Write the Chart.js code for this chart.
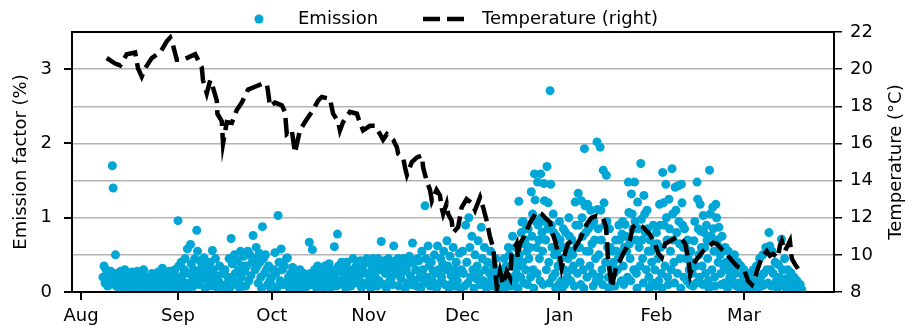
<!DOCTYPE html>
<html>
<head>
<meta charset="utf-8">
<script src="https://cdn.jsdelivr.net/npm/chart.js@4/dist/chart.umd.min.js"></script>
<style>
  html, body { margin: 0; padding: 0; background: #fff; }
  #wrap { width: 908px; height: 329px; }
</style>
</head>
<body>
<div id="wrap"><canvas id="chart" width="908" height="329"></canvas></div>
<script>
// x axis is "days since 1 Aug"
const monthDays = [0, 31, 61, 92, 122, 153, 184, 212];
const monthLabels = ['Aug', 'Sep', 'Oct', 'Nov', 'Dec', 'Jan', 'Feb', 'Mar'];
const emissionTicks = [0, 1, 2, 3];
const tempTicks = [8, 10, 12, 14, 16, 18, 20, 22];

// emission factor (%) readings, one list per day starting at day 7 (8 Aug)
const firstEmissionDay = 7;
const emissionByDay = [
  // Aug
  [0.2, 0.35, 0.12], [0.3, 0.18, 0.08, 0.25], [0.22, 0.1, 0.28, 0.15], [1.7, 1.4, 0.12, 0.2],
  [0.5, 0.08, 0.25, 0.15], [0.18, 0.05, 0.28], [0.1, 0.22, 0.04], [0.3, 0.12, 0.06],
  [0.08, 0.2, 0.02], [0.15, 0.27, 0.05], [0.1, 0.03, 0.18], [0.28, 0.06, 0.12],
  [0.05, 0.15, 0.22], [0.3, 0.08, 0.02], [0.12, 0.2, 0.05], [0.18, 0.04, 0.25],
  [0.08, 0.22, 0.12], [0.15, 0.03, 0.27], [0.2, 0.1, 0.06], [0.32, 0.12, 0.04],
  [0.15, 0.25, 0.07], [0.1, 0.28, 0.18], [0.22, 0.05, 0.14], [0.3, 0.12, 0.2, 0.08],
  // Sep
  [0.96, 0.35, 0.18, 0.05], [0.4, 0.22, 0.1], [0.3, 0.45, 0.12, 0.02], [0.58, 0.25, 0.08],
  [0.64, 0.38, 0.15, 0.07], [0.3, 0.45, 0.2], [0.83, 0.55, 0.28, 0.1], [0.42, 0.18, 0.35],
  [0.25, 0.46, 0.05], [0.35, 0.15, 0.28], [0.2, 0.4, 0.08], [0.56, 0.3, 0.12],
  [0.45, 0.22, 0.05], [0.15, 0.35, 0.03], [0.08, 0.25, 0.05], [0.3, 0.1, 0.04],
  [0.2, 0.45, 0.06], [0.72, 0.38, 0.15], [0.5, 0.25, 0.1], [0.42, 0.3, 0.12, 0.05],
  [0.55, 0.2, 0.35], [0.48, 0.28, 0.08], [0.35, 0.55, 0.15], [0.5, 0.22, 0.4],
  [0.76, 0.45, 0.3], [0.6, 0.35, 0.12], [0.52, 0.4, 0.2, 0.05], [0.88, 0.45, 0.25],
  [0.5, 0.3, 0.1], [0.35, 0.15, 0.05],
  // Oct
  [0.2, 0.08, 0.3], [0.53, 0.25, 0.05], [1.03, 0.4, 0.15], [0.58, 0.3, 0.1],
  [0.35, 0.12, 0.45], [0.46, 0.2, 0.05], [0.25, 0.1, 0.33], [0.15, 0.3, 0.04],
  [0.08, 0.22, 0.12], [0.3, 0.05, 0.18], [0.12, 0.25, 0.06], [0.2, 0.08, 0.15],
  [0.67, 0.25, 0.1], [0.57, 0.18, 0.3], [0.22, 0.05, 0.35], [0.28, 0.12, 0.2],
  [0.1, 0.3, 0.06], [0.35, 0.15, 0.25], [0.22, 0.38, 0.05], [0.3, 0.12, 0.18],
  [0.61, 0.25, 0.08], [0.78, 0.35, 0.15], [0.28, 0.4, 0.1], [0.18, 0.32, 0.05],
  [0.4, 0.22, 0.12], [0.3, 0.08, 0.25], [0.45, 0.2, 0.12], [0.35, 0.15, 0.28],
  [0.22, 0.42, 0.06], [0.3, 0.12, 0.38], [0.25, 0.45, 0.1],
  // Nov
  [0.4, 0.2, 0.05], [0.3, 0.45, 0.12], [0.22, 0.38, 0.08], [0.45, 0.15, 0.3],
  [0.68, 0.35, 0.1], [0.42, 0.25, 0.05], [0.3, 0.45, 0.15], [0.38, 0.2, 0.1],
  [0.62, 0.3, 0.42], [0.25, 0.45, 0.08], [0.35, 0.18, 0.4], [0.45, 0.28, 0.05],
  [0.3, 0.12, 0.38], [0.48, 0.22, 0.1], [0.66, 0.4, 0.15], [0.3, 0.08, 0.45],
  [0.42, 0.2, 0.05], [0.55, 0.3, 0.12], [1.16, 0.45, 0.2], [0.62, 0.35, 0.08],
  [0.4, 0.15, 0.28], [0.5, 0.25, 0.05], [0.62, 0.3, 0.12], [0.45, 0.2, 0.38],
  [0.55, 0.1, 0.3], [0.69, 0.35, 0.05], [0.48, 0.22, 0.12], [0.6, 0.3, 0.08],
  [0.4, 0.15, 0.25], [0.52, 0.05, 0.3],
  // Dec
  [0.55, 0.25, 0.08], [0.9, 0.4, 0.12], [1.0, 0.6, 0.2], [0.75, 0.3, 0.05],
  [0.5, 0.18, 0.35], [0.69, 0.25, 0.1], [0.87, 0.45, 0.15], [0.6, 0.3, 0.05],
  [0.4, 0.12, 0.25], [0.55, 0.2, 0.08], [0.35, 0.1, 0.45], [0.25, 0.05, 0.15],
  [0.3, 0.1, 0.02], [0.2, 0.45, 0.05], [0.35, 0.12, 0.6], [0.5, 0.2, 0.08],
  [0.75, 0.35, 0.45, 0.15], [0.6, 0.25, 0.4, 0.05], [1.22, 0.5, 0.35, 0.2, 0.8], [0.94, 0.4, 0.95, 0.12, 0.65],
  [0.7, 0.3, 0.85, 0.55, 0.1], [0.85, 0.45, 0.6, 0.2], [1.35, 0.75, 1.05, 0.3, 0.05], [1.59, 1.24, 0.95, 0.6, 0.25],
  [1.48, 0.9, 0.7, 0.45, 0.15], [1.59, 1.0, 0.8, 0.55, 0.1], [1.46, 1.23, 0.95, 0.7, 0.3], [1.69, 0.85, 1.2, 0.4, 0.12],
  [2.71, 1.45, 0.9, 0.6, 0.2], [1.05, 0.8, 0.5, 0.25, 0.05], [0.75, 0.55, 0.35, 0.1],
  // Jan
  [0.95, 0.7, 0.45, 0.15, 0.05], [0.6, 0.85, 0.3, 0.1], [0.8, 0.6, 0.2, 0.45], [1.0, 0.75, 0.55, 0.15, 0.3],
  [0.7, 0.5, 0.35, 0.08], [1.21, 0.9, 0.6, 0.25], [1.33, 0.9, 0.6, 0.4, 0.1], [1.23, 1.0, 0.75, 0.3, 0.05],
  [1.93, 1.16, 0.8, 0.55, 0.2], [1.18, 0.85, 0.55, 0.35], [1.1, 0.9, 0.65, 0.25, 0.08], [0.95, 0.7, 0.45, 0.15],
  [2.02, 1.11, 0.85, 0.5, 0.2], [1.95, 1.1, 0.7, 0.3, 0.1], [1.64, 1.2, 0.9, 0.4], [1.57, 0.95, 0.6, 0.2, 0.05],
  [0.85, 0.6, 0.35, 0.1], [0.55, 0.4, 0.25, 0.08], [0.7, 0.55, 0.3, 0.45], [0.9, 0.7, 0.5, 0.15],
  [0.78, 0.95, 0.35, 0.1, 0.6], [0.91, 0.75, 0.55, 0.2], [1.48, 1.07, 0.65, 0.45, 0.15], [1.32, 1.05, 0.85, 0.3],
  [1.48, 0.95, 0.7, 0.25, 0.05], [1.21, 0.85, 0.6, 0.35], [1.73, 0.98, 0.7, 0.45, 0.12], [1.3, 1.05, 0.8, 0.3],
  [1.1, 0.85, 0.55, 0.2, 0.05], [0.7, 0.55, 0.4, 0.12], [0.9, 0.6, 0.3, 0.08],
  // Feb
  [0.8, 0.65, 0.45, 0.15], [1.18, 0.9, 0.6, 0.25, 0.05], [1.61, 1.2, 0.9, 0.35], [1.45, 1.0, 0.7, 0.2, 0.1],
  [1.25, 0.85, 0.55, 0.3], [1.66, 1.05, 0.7, 0.4, 0.12], [1.41, 1.1, 0.8, 0.25], [1.43, 0.95, 0.65, 0.45, 0.05],
  [1.45, 1.2, 0.9, 0.6, 0.2], [0.85, 0.6, 0.45, 0.15], [0.7, 0.5, 0.3, 0.1], [0.55, 0.4, 0.25, 0.08],
  [0.69, 0.95, 0.35, 0.12], [1.48, 1.25, 0.85, 0.5, 0.2], [1.18, 0.82, 0.6, 0.35, 0.1], [1.03, 0.8, 0.6, 0.25],
  [0.9, 0.7, 0.45, 0.15, 0.05], [1.64, 1.05, 0.75, 0.3], [1.14, 0.85, 0.55, 0.2, 0.08], [1.18, 1.0, 0.7, 0.4],
  [0.87, 0.6, 0.5, 0.25, 0.1], [0.75, 0.55, 0.35, 0.12], [0.6, 0.4, 0.3, 0.05], [0.55, 0.35, 0.2, 0.1],
  [0.45, 0.15, 0.3], [0.5, 0.25, 0.08], [0.4, 0.12, 0.05], [0.35, 0.1, 0.22],
  // Mar
  [0.3, 0.1, 0.05], [0.25, 0.08, 0.15], [0.2, 0.05, 0.12], [0.3, 0.1, 0.04],
  [0.35, 0.15, 0.06], [0.45, 0.2, 0.08], [0.5, 0.25, 0.1], [0.6, 0.3, 0.12],
  [0.8, 0.62, 0.3, 0.08], [0.55, 0.25, 0.1], [0.4, 0.15, 0.05], [0.37, 0.2, 0.08],
  [0.71, 0.3, 0.1], [0.45, 0.18, 0.05], [0.3, 0.1, 0.03], [0.26, 0.12, 0.05],
  [0.2, 0.08, 0.02], [0.15, 0.05, 0.1], [0.1, 0.03]
];

// temperature (°C), right axis
const tempDays = [
  8.2, 10.9, 12.5, 14.6, 17.3, 18.2, 19.4, 20.5, 22.6, 25.3, 27.4, 28.5, 29.4, 30.6, 32.6, 36.5,
  38.6, 39.0, 40.2, 41.3, 42.2, 43.4, 43.6, 45.0, 45.4, 46.6, 48.2, 49.8, 51.4, 53.4, 55.6, 57.8,
  59.4, 59.8, 60.4, 62.0, 64.2, 65.2, 65.8, 67.4, 68.4, 70.0, 71.6, 74.2, 75.8, 77.0, 79.6, 80.6,
  82.2, 82.8, 83.8, 86.0, 88.2, 89.2, 90.2, 92.4, 94.0, 95.6, 96.6, 97.8, 99.8, 101.0, 101.4, 103.0,
  103.6, 104.2, 105.8, 107.4, 109.0, 109.4, 110.5, 111.6, 112.2, 113.7, 114.8, 115.3, 115.8, 116.9, 117.4, 118.5,
  119.0, 120.6, 121.7, 123.3, 124.9, 126.0, 127.6, 128.6, 129.7, 130.8, 131.8, 132.4, 133.0, 134.0, 134.9, 136.1,
  137.2, 137.7, 139.3, 139.7, 140.4, 142.0, 143.6, 145.7, 147.3, 148.4, 150.0, 150.5, 151.6, 152.1, 153.2, 153.7,
  154.8, 155.7, 156.9, 158.0, 159.6, 160.5, 161.7, 163.3, 164.9, 166.9, 167.9, 168.1, 168.5, 169.2, 169.7, 170.8,
  171.3, 172.4, 173.3, 174.5, 175.6, 176.5, 177.7, 179.7, 181.9, 183.5, 184.5, 185.7, 186.8, 188.4, 190.5, 192.1,
  193.2, 194.1, 194.8, 195.7, 197.3, 198.9, 200.5, 202.1, 203.3, 204.9, 206.5, 208.1, 209.7, 211.3, 212.3, 213.3,
  214.5, 215.5, 216.5, 217.7, 219.3, 220.3, 221.3, 222.9, 223.5, 224.1, 225.1, 226.7, 227.3, 228.3, 229.3
];
const tempValues = [
  20.6, 20.3, 20.2, 20.8, 20.9, 20.05, 19.6, 20.05, 20.6, 20.9, 21.5, 21.7, 21.3, 20.5, 20.5, 20.8,
  20.1, 19.4, 18.7, 19.4, 19.0, 18.3, 17.6, 17.2, 16.0, 17.15, 17.1, 17.8, 18.2, 18.9, 19.05, 19.2,
  19.2, 18.8, 18.0, 18.2, 18.05, 17.7, 16.5, 16.7, 15.5, 16.7, 17.15, 17.8, 18.3, 18.5, 18.4, 17.6,
  17.2, 16.7, 17.15, 17.7, 17.6, 17.1, 16.7, 16.95, 16.95, 16.5, 16.2, 16.5, 16.2, 15.8, 15.45, 15.25,
  14.7, 14.3, 15.0, 15.25, 15.35, 14.7, 14.0, 13.5, 12.9, 13.5, 13.2, 12.55, 12.2, 12.75, 12.2, 11.85,
  11.2, 11.5, 12.55, 13.0, 12.8, 12.4, 13.1, 12.55, 11.85, 10.95, 10.4, 9.3, 8.2, 9.1, 8.4, 9.1,
  8.75, 10.05, 10.6, 9.85, 10.6, 11.1, 11.75, 12.3, 12.2, 12.0, 11.75, 11.3, 10.75, 10.4, 9.85, 9.3,
  10.1, 10.6, 10.75, 10.4, 10.85, 11.2, 11.65, 12.0, 12.1, 12.0, 11.5, 10.9, 9.85, 8.95, 8.25, 9.1,
  9.5, 9.7, 10.05, 10.4, 10.85, 11.5, 11.65, 11.5, 11.1, 10.65, 10.1, 9.85, 10.6, 10.75, 10.95, 10.85,
  10.6, 9.85, 8.95, 9.5, 9.85, 10.2, 10.4, 10.65, 10.6, 10.3, 10.05, 9.7, 9.4, 9.25, 9.1, 8.6,
  8.4, 8.75, 9.3, 9.85, 10.2, 9.95, 10.05, 9.85, 10.5, 10.75, 10.2, 10.75, 9.8, 9.5, 9.25
];

const blue = '#00a6d6';
const FONT = '"DejaVu Sans", Verdana, sans-serif';

// readings spread evenly through each day
const emissionPoints = [];
emissionByDay.forEach((vals, i) => {
  vals.forEach((v, j) => {
    emissionPoints.push({ x: firstEmissionDay + i + j / vals.length, y: v });
  });
});
const tempPoints = tempDays.map((d, i) => ({ x: d, y: tempValues[i] }));

Chart.defaults.font.family = FONT;
Chart.defaults.font.size = 18;
Chart.defaults.color = '#000';

const extras = {
  id: 'extras',
  afterDraw(chart) {
    const { ctx, chartArea: a } = chart;
    ctx.save();
    // frame on top of the points
    ctx.strokeStyle = '#000';
    ctx.lineWidth = 2;
    ctx.strokeRect(a.left, a.top, a.right - a.left, a.bottom - a.top);

    // right axis title reads bottom to top
    ctx.fillStyle = '#000';
    ctx.font = '18px ' + FONT;
    ctx.textAlign = 'center';
    ctx.textBaseline = 'middle';
    ctx.save();
    ctx.translate(896, (a.top + a.bottom) / 2);
    ctx.rotate(-Math.PI / 2);
    ctx.fillText('Temperature (°C)', 0, 0);
    ctx.restore();

    // legend
    const ly = 19;
    ctx.fillStyle = blue;
    ctx.beginPath();
    ctx.arc(259, ly, 4.5, 0, Math.PI * 2);
    ctx.fill();
    ctx.strokeStyle = '#000';
    ctx.lineWidth = 4.5;
    ctx.setLineDash([17, 7]);
    ctx.beginPath();
    ctx.moveTo(423, ly);
    ctx.lineTo(467, ly);
    ctx.stroke();
    ctx.setLineDash([]);
    ctx.fillStyle = '#000';
    ctx.textAlign = 'left';
    ctx.fillText('Emission', 298, ly);
    ctx.fillText('Temperature (right)', 482, ly);
    ctx.restore();
  }
};

new Chart(document.getElementById('chart'), {
  data: {
    datasets: [
      {
        type: 'line',
        label: 'Temperature (right)',
        data: tempPoints,
        yAxisID: 'y2',
        borderColor: '#000',
        borderWidth: 4.5,
        borderDash: [17, 7],
        pointRadius: 0,
        tension: 0,
        clip: 0,
        order: 0
      },
      {
        type: 'scatter',
        label: 'Emission',
        data: emissionPoints,
        yAxisID: 'y',
        backgroundColor: blue,
        borderWidth: 0,
        pointRadius: 4.5,
        clip: 0,
        order: 1
      }
    ]
  },
  options: {
    responsive: false,
    animation: false,
    events: [],
    layout: { padding: { top: 32 } },
    plugins: { legend: { display: false }, tooltip: { enabled: false } },
    scales: {
      x: {
        type: 'linear',
        min: -2.9,
        max: 240.8,
        afterBuildTicks: s => { s.ticks = monthDays.map(v => ({ value: v })); },
        afterFit: s => { s.height = 37; },
        ticks: {
          padding: 6,
          maxRotation: 0,
          autoSkip: false,
          callback: v => monthLabels[monthDays.indexOf(v)]
        },
        grid: { drawOnChartArea: false, tickLength: 8, tickColor: '#000', lineWidth: 2 },
        border: { color: '#000', width: 2 }
      },
      y: {
        position: 'left',
        min: 0,
        max: 3.5,
        afterBuildTicks: s => { s.ticks = emissionTicks.map(v => ({ value: v })); },
        afterFit: s => { s.width = 72; },
        ticks: { padding: 12 },
        grid: { drawOnChartArea: false, tickLength: 8, tickColor: '#000', lineWidth: 2 },
        border: { color: '#000', width: 2 },
        title: { display: true, text: 'Emission factor (%)', padding: { top: 11, bottom: 0 } }
      },
      y2: {
        position: 'right',
        min: 8,
        max: 22,
        afterBuildTicks: s => { s.ticks = tempTicks.map(v => ({ value: v })); },
        afterFit: s => { s.width = 74; },
        ticks: { padding: 8 },
        grid: {
          drawOnChartArea: true,
          tickLength: 8,
          tickColor: '#000',
          lineWidth: 1.5,
          color: c => (c.tick && (c.tick.value === 8 || c.tick.value === 22)) ? 'rgba(0,0,0,0)' : '#b4b4b4'
        },
        border: { color: '#000', width: 2 }
      }
    }
  },
  plugins: [extras]
});
</script>
</body>
</html>
